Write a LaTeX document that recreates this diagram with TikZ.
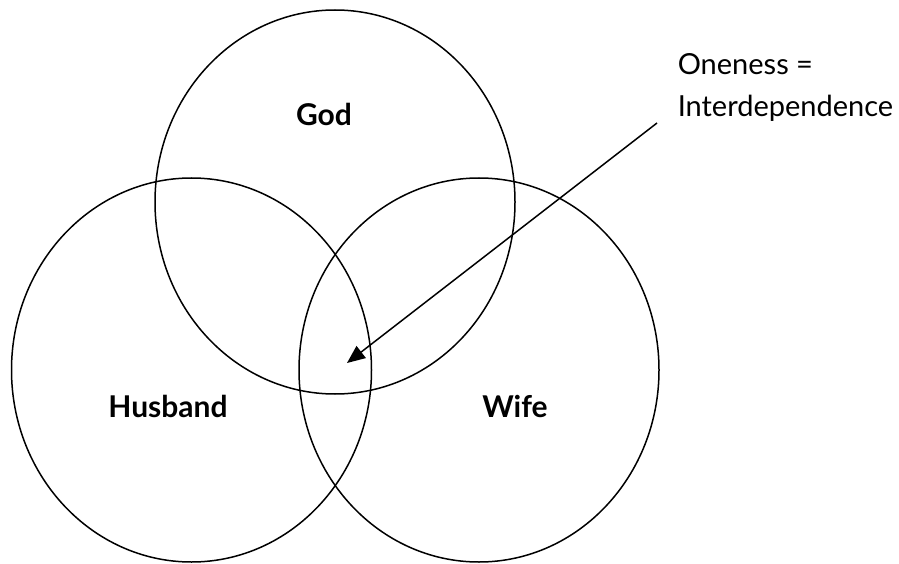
\documentclass[tikz,border=0pt]{standalone}
\usepackage{fontspec}
\setmainfont{Lato}
\usetikzlibrary{arrows.meta, positioning, shapes.geometric}
\tikzset{
  every picture/.style={font=\fontsize{29}{35}\selectfont, line width=1.5pt},
  ring/.style={draw, ellipse, inner sep=0pt, outer sep=0pt, minimum width=360pt, minimum height=384pt},
  tag/.style={font=\fontsize{30}{36}\selectfont\bfseries},
  note/.style={anchor=base west, inner sep=0pt},
  arrow/.style={-{Triangle[length=18pt, width=15pt]}, line width=1.5pt},
}
\begin{document}
\begin{tikzpicture}[x=1pt, y=-1pt]
  \useasboundingbox (0,0) rectangle (899,564);
  % the three rings
  \node[ring] (god) at (335,202) {};
  \node[ring] (husband) at (191.5,370) {};
  \node[ring] (wife) at (479,370) {};
  % names
  \node[tag] (godname) at (324,114) {God};
  \node[tag] (husbandname) at (168,406) {Husband};
  \node[tag] (wifename) at (515,406) {Wife};
  % note and its pointer
  \node[note] (oneness) at (677,75) {Oneness =};
  \node[note] (interdep) at (677,117) {Interdependence};
  \coordinate (tail) at (657,123);
  \coordinate (tip) at (347,363);
  \draw[arrow] (tail) -- (tip);
\end{tikzpicture}
\end{document}
